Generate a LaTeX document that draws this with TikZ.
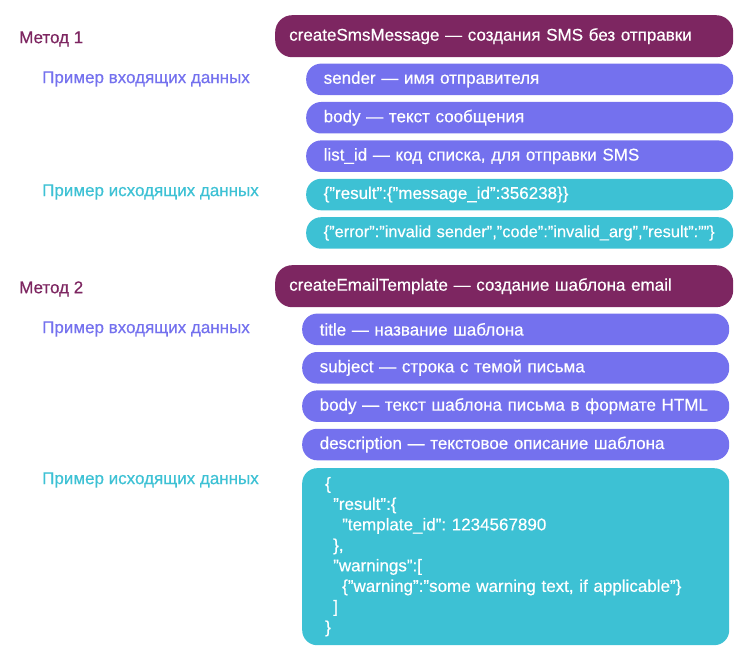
\documentclass[tikz,border=0pt]{standalone}
\usepackage{fontspec}
\setmainfont{Liberation Sans}[FakeBold=0.5]
\usepackage{xcolor}
\usetikzlibrary{positioning}
\definecolor{Plum}{HTML}{7D2661}
\definecolor{Violet}{HTML}{7471EE}
\definecolor{Cyan}{HTML}{3DC1D4}

\begin{document}
\frenchspacing
\begin{tikzpicture}[x=1pt,y=-1pt,font=\fontsize{17}{20.5}\selectfont,
    hdr/.style={fill=Plum,text=white,rounded corners=17pt,minimum height=42pt,
      text width=430pt,inner xsep=14pt,align=left,anchor=north west},
    inp/.style={fill=Violet,text=white,rounded corners=15pt,minimum height=31.5pt,
      text width=392pt,inner xsep=17.5pt,align=left},
    outp/.style={inp,fill=Cyan},
    lbl/.style={anchor=west,inner sep=0pt}]
  \useasboundingbox (0,0) rectangle (750,663);
  % Метод 1
  \node[lbl,text=Plum] (m1) at (19,39) {Метод 1};
  \node[hdr] (h1) at (275,15) {createSmsMessage — создания SMS без отправки};
  \node[inp, below=6pt of h1.south east, anchor=north east] (sender) {sender — имя отправителя};
  \node[inp, below=6.5pt of sender] (body1) {body — текст сообщения};
  \node[inp, below=6.5pt of body1] (list) {list\_id — код списка, для отправки SMS};
  \node[outp, below=6.5pt of list] (ok1) {\{"result":\{"message\_id":356238\}\}};
  \node[outp, below=6.5pt of ok1, font=\fontsize{16.4}{20.5}\selectfont] (err1) {\mbox{\{"error":"invalid sender","code":"invalid\_arg","result":""\}}};
  \node[lbl,text=Violet] (in1) at (42,79) {Пример входящих данных};
  \node[lbl,text=Cyan] (out1) at (42,192) {Пример исходящих данных};
  % Метод 2
  \node[lbl,text=Plum] (m2) at (19,289) {Метод 2};
  \node[hdr] (h2) at (275,265) {createEmailTemplate — создание шаблона email};
  \node[inp, below=6pt of h2.south east, anchor=north east, xshift=-4pt] (title) {title — название шаблона};
  \node[inp, below=6.5pt of title] (subj) {subject — строка с темой письма};
  \node[inp, below=6.5pt of subj] (body2) {body — текст шаблона письма в формате HTML};
  \node[inp, below=6.5pt of body2] (desc) {description — текстовое описание шаблона};
  \node[outp, below=7.5pt of desc, minimum height=177pt, inner xsep=23pt, text width=381pt] (res2) {%
    \{\\
    \hspace*{8pt}"result":\{\\
    \hspace*{17pt}"template\_id": 1234567890\\
    \hspace*{8pt}\},\\
    \hspace*{8pt}"warnings":[\\
    \hspace*{17pt}\{"warning":"some warning text, if applicable"\}\\
    \hspace*{8pt}]\\
    \}};
  \node[lbl,text=Violet] (in2) at (42,329) {Пример входящих данных};
  \node[lbl,text=Cyan] (out2) at (42,480) {Пример исходящих данных};
\end{tikzpicture}
\end{document}
